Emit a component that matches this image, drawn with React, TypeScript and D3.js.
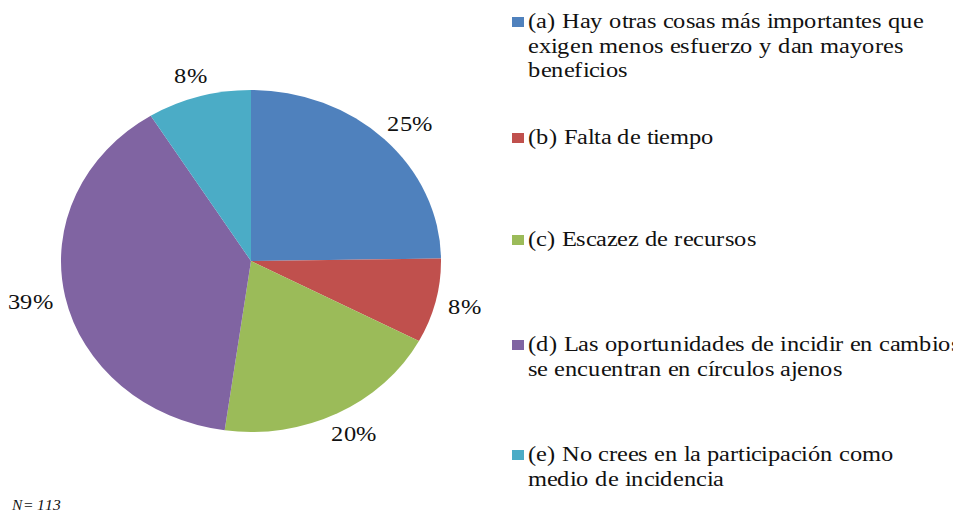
import React from 'react';
import { pie, arc } from 'd3';

// answers, counts out of N = 113
const categories = [
    ['(a) Hay otras cosas más importantes que', 'exigen menos esfuerzo y dan mayores', 'beneficios'],
    ['(b) Falta de tiempo'],
    ['(c) Escazez de recursos'],
    ['(d) Las oportunidades de incidir en cambios', 'se encuentran en círculos ajenos'],
    ['(e) No crees en la participación como', 'medio de incidencia'],
];
const counts = [28, 9, 22, 44, 10];
const percentLabels = ['25%', '8%', '20%', '39%', '8%'];
const colors = ['#4F81BD', '#C0504D', '#9BBB59', '#8064A2', '#4BACC6'];
const legendY = [28, 144, 246, 351, 461];
const noteText = 'N= 113';

// body keeps its 8px margin, so the drawing is shifted back by it
const M = 8;
const W = 961 - M;
const H = 531 - M;
// the original picture is stretched sideways, so text and pie get the same x-stretch
const SX = 190 / 171;

const css = `
@font-face { font-family: 'ChartSerif'; src: local('Liberation Serif'), local('LiberationSerif'), local('Times New Roman'); font-style: normal; }
@font-face { font-family: 'ChartSerif'; src: local('Liberation Serif Italic'), local('LiberationSerif-Italic'); font-style: italic; }
.chart-txt { font-family: 'ChartSerif', 'Liberation Serif', 'Times New Roman', 'DejaVu Serif'; fill: #111; }
`;

const cx = 251, cy = 261, ry = 171;

function PieChart() {
    const slices = pie<number>().sort(null)(counts);
    const arcGen = arc<any>().innerRadius(0).outerRadius(ry);

    return (
        <svg width={W} height={H}>
            <style>{css}</style>
            <g transform={`translate(${-M},${-M})`}>
                <g transform={`translate(${cx},${cy}) scale(${SX},1)`}>
                    {slices.map((s, i) => (
                        <path key={i} d={arcGen(s) as string} fill={colors[i]} />
                    ))}
                </g>

                {slices.map((s, i) => {
                    const a = (s.startAngle + s.endAngle) / 2;
                    const ux = Math.sin(a), uy = -Math.cos(a);
                    const r = ry + 12;
                    const w = ((percentLabels[i].length - 1) * 0.5 + 0.833) * 22 * SX;
                    const x = cx + r * ux * SX + ux * w / 2;
                    const y = cy + r * uy + uy * 10;
                    return (
                        <text key={i} className="chart-txt" transform={`translate(${x},${y}) scale(${SX},1)`}
                            textAnchor="middle" dy="0.35em" fontSize={22}>
                            {percentLabels[i]}
                        </text>
                    );
                })}

                {categories.map((lines, i) => (
                    <g key={i}>
                        <rect x={512} y={legendY[i] - 11} width={12} height={10} fill={colors[i]} />
                        {lines.map((line, j) => (
                            <text key={j} className="chart-txt"
                                transform={`translate(528,${legendY[i] + j * 24.5}) scale(${SX},1)`}
                                fontSize={22}>
                                {line}
                            </text>
                        ))}
                    </g>
                ))}

                <text className="chart-txt" transform={`translate(12,510) scale(${SX},1)`} fontSize={14}
                    fontStyle="italic">
                    {noteText}
                </text>
            </g>
        </svg>
    );
}

export default function App() {
    return <PieChart />;
}
